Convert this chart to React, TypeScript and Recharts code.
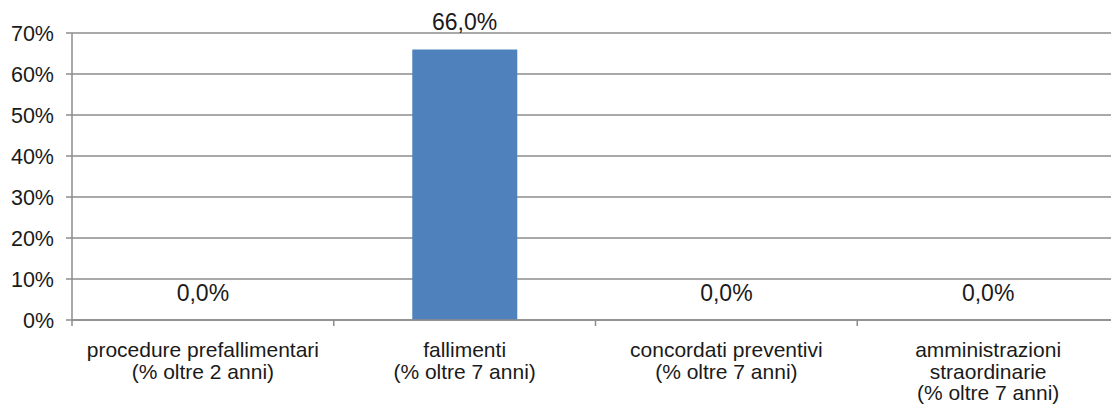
import { ComposedChart, Bar, Line, XAxis, YAxis, CartesianGrid, LabelList } from 'recharts'

const categories = [
  ['procedure prefallimentari', '(% oltre 2 anni)'],
  ['fallimenti', '(% oltre 7 anni)'],
  ['concordati preventivi', '(% oltre 7 anni)'],
  ['amministrazioni', 'straordinarie', '(% oltre 7 anni)'],
]
const values = [0, 66, 0, 0]
const yTicks = [0, 10, 20, 30, 40, 50, 60, 70]

const data = categories.map((lines, i) => ({
  name: lines.join('\n'),
  value: values[i],
}))

const gray = '#8c8c8c'
const font = 'Liberation Sans, Arial, sans-serif'

function CategoryTick(props: any) {
  const { x, y, payload, index, visibleTicksCount } = props
  const lines = String(payload.value).split('\n')
  const off = payload.offset || 0
  const last = index === visibleTicksCount - 1
  return (
    <g>
      <line x1={x - off} x2={x - off} y1={y} y2={y + 6} stroke={gray} strokeWidth={1.5} />
      {last && <line x1={x + off} x2={x + off} y1={y} y2={y + 6} stroke={gray} strokeWidth={1.5} />}
      <text x={x} y={y + 37} textAnchor="middle" fontSize={21} fontFamily={font} fill="#1a1a1a">
        {lines.map((l, i) => (
          <tspan key={i} x={x} dy={i === 0 ? 0 : 21.5}>
            {l}
          </tspan>
        ))}
      </text>
    </g>
  )
}

const fmt = (v: any) => `${Number(v).toFixed(1).replace('.', ',')}%`

export default function App() {
  return (
    <div style={{ position: 'absolute', left: 0, top: 0, width: 1111, height: 405, overflow: 'hidden' }}>
      <ComposedChart
        width={1130}
        height={405}
        data={data}
        margin={{ top: 33, right: 11, bottom: 0, left: 0 }}
        barCategoryGap="30%"
      >
        <CartesianGrid horizontal vertical={false} stroke={gray} strokeWidth={1.5} />
        <XAxis
          dataKey="name"
          height={85}
          axisLine={{ stroke: gray, strokeWidth: 1.5 }}
          tickLine={false}
          tickSize={0}
          tickMargin={0}
          tick={<CategoryTick />}
          interval={0}
        />
        <YAxis
          width={72}
          domain={[0, 70]}
          ticks={yTicks}
          tickFormatter={(v) => `${v}%`}
          axisLine={{ stroke: gray, strokeWidth: 1.5 }}
          tickLine={{ stroke: gray, strokeWidth: 1.5 }}
          tickSize={6}
          tickMargin={12}
          tick={{ fontSize: 21.5, fontFamily: font, fill: '#1a1a1a' }}
        />
        <Bar dataKey="value" fill="#4f81bd" isAnimationActive={false} />
        <Line
          dataKey="value"
          stroke="none"
          dot={false}
          activeDot={false}
          legendType="none"
          isAnimationActive={false}
        >
          <LabelList
            dataKey="value"
            position="top"
            offset={19}
            formatter={fmt}
            style={{ fontSize: 23, fontFamily: font, fill: '#1a1a1a' }}
          />
        </Line>
      </ComposedChart>
    </div>
  )
}
